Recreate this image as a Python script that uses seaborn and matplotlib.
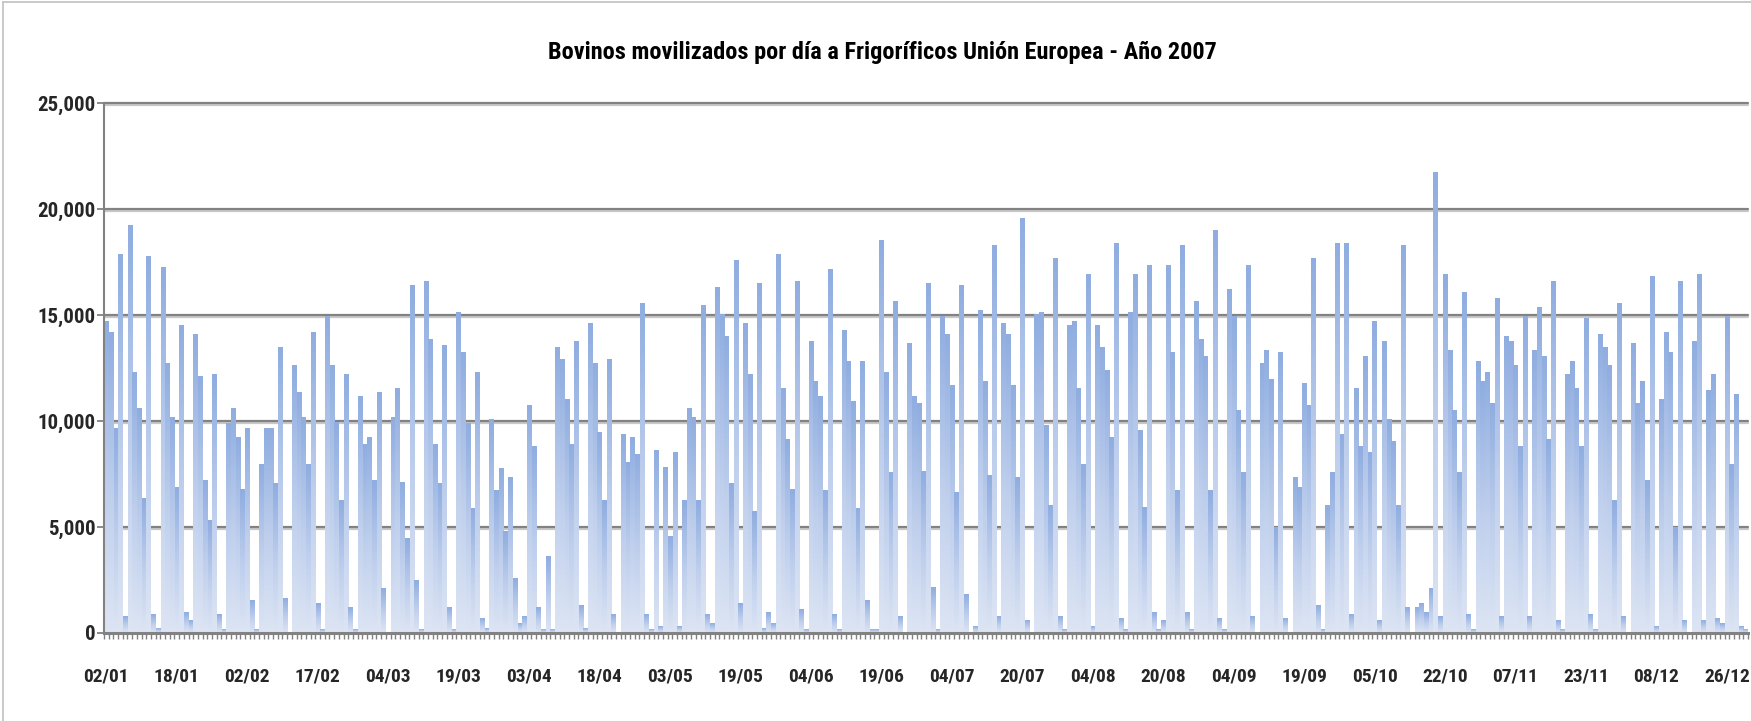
import numpy as np
import pandas as pd
import matplotlib
matplotlib.use("Agg")
import matplotlib.pyplot as plt
import matplotlib.patheffects as pe
from matplotlib import font_manager
from matplotlib.colors import LinearSegmentedColormap
import seaborn as sns

# ---------------------------------------------------------------
# Daily head count, 2007 (one list per month, in date order;
# days listed in `skipped_days` have no record in the series)
# ---------------------------------------------------------------
skipped_days = ["2007-01-07", "2007-05-06", "2007-05-20", "2007-07-15",
                "2007-08-05", "2007-09-30", "2007-10-07", "2007-10-21",
                "2007-11-04", "2007-11-11", "2007-12-09", "2007-12-23",
                "2007-12-25"]

jan = [14670, 14180, 9640, 17840, 780, 19240, 12280, 10580, 6360, 17750,
       870, 235, 17250, 12720, 10150, 6880, 14510, 960, 600, 14080,
       12100, 7210, 5330, 12190, 870, 180, 9870, 10580, 9200]
feb = [6790, 9640, 1540, 145, 7970, 9640, 9640, 7030, 13460, 1630,
       0, 12610, 11340, 10150, 7970, 14180, 1400, 145, 14910, 12610,
       9950, 6270, 12190, 1210, 145, 11140, 8910, 9200]
mar = [7210, 11340, 2080, 0, 10150, 11520, 7120, 4470, 16390, 2480,
       145, 16590, 13840, 8910, 7030, 13570, 1210, 145, 15130, 13220,
       9870, 5850, 12280, 690, 235, 10050, 6700, 7740, 4800, 7320, 2570]
apr = [450, 780, 10720, 8790, 1210, 145, 3620, 145, 13460, 12900,
       11000, 8910, 13750, 1300, 235, 14600, 12720, 9440, 6270, 12900,
       870, 0, 9350, 8060, 9200, 8410, 15540, 870, 145, 8590]
may = [330, 7820, 4560, 8500, 330, 6270, 10580, 10150, 6270, 15450,
       870, 450, 16300, 15020, 13990, 7030, 17590, 1400, 14600, 12190,
       5740, 16500, 235, 960, 450, 17840, 11520, 9110, 6790]
jun = [16590, 1120, 145, 13750, 11870, 11140, 6700, 17160, 870, 145,
       14280, 12810, 10910, 5850, 12810, 1540, 145, 145, 18530, 12280,
       7550, 15650, 780, 0, 13660, 11140, 10820, 7640, 16500, 2140]
jul = [145, 14910, 14080, 11670, 6610, 16390, 1810, 0, 330, 15220,
       11870, 7410, 18300, 780, 14600, 14080, 11670, 7320, 19570, 600,
       0, 15020, 15130, 9780, 6030, 17680, 780, 145, 14510, 14690]
aug = [11520, 7970, 16920, 330, 14510, 13460, 12370, 9200, 18390, 690,
       145, 15130, 16920, 9530, 5920, 17350, 960, 145, 600, 17350,
       13220, 6700, 18300, 960, 145, 15650, 13840, 13040, 6700, 18970]
sep = [690, 145, 16210, 14910, 10490, 7550, 17350, 780, 0, 12720,
       13320, 11960, 5000, 13220, 690, 0, 7320, 6880, 11760, 10720,
       17680, 1300, 145, 6030, 7550, 18390, 9350, 18390, 870]
oct_ = [11520, 8790, 13040, 8500, 14690, 600, 13750, 10050, 9040, 6030,
        18300, 1210, 0, 1210, 1400, 960, 2080, 21700, 780, 16920,
        13320, 10490, 7550, 16070, 870, 145, 12810, 11870, 12280]
nov = [10820, 15780, 780, 13990, 13750, 12610, 8790, 14910, 780, 13320,
       15360, 13040, 9110, 16590, 600, 145, 12190, 12810, 11520, 8790,
       14840, 870, 145, 14080, 13460, 12610, 6270, 15540]
dec = [780, 0, 13660, 10820, 11870, 7210, 16830, 330, 11000, 14180,
       13220, 5000, 16590, 600, 0, 13750, 16920, 600, 11430, 12190,
       690, 450, 14910, 7970, 11250, 330, 145]

title = "Bovinos movilizados por día a Frigoríficos Unión Europea - Año 2007"
y_ticks = [0, 5000, 10000, 15000, 20000, 25000]
label_every = 15

# ---------------------------------------------------------------
dates = pd.date_range("2007-01-02", "2007-12-30", freq="D")
dates = dates[~dates.isin(pd.to_datetime(skipped_days))]
values = jan + feb + mar + apr + may + jun + jul + aug + sep + oct_ + nov + dec
df = pd.DataFrame({"fecha": dates.strftime("%d/%m"), "bovinos": values})
n = len(df)


def pick_font(candidates):
    for name in candidates:
        try:
            font_manager.findfont(font_manager.FontProperties(family=name),
                                  fallback_to_default=False)
            return name
        except Exception:
            continue
    return "DejaVu Sans"


sns.set_theme(style="white")
narrow = pick_font(["Liberation Sans Narrow", "Arial Narrow",
                    "DejaVu Sans Condensed", "Roboto Condensed", "Liberation Sans"])
plt.rcParams["font.family"] = [narrow, "DejaVu Sans"]

W, H = 1751, 721
fig = plt.figure(figsize=(W / 100, H / 100), dpi=100)
fig.patch.set_facecolor("white")
ax = fig.add_axes([104 / W, 1 - 633 / H, (1748 - 104) / W, (633 - 103) / H])

sns.barplot(data=df, x="fecha", y="bovinos", color="#94b1e0",
            saturation=1, width=0.92, ax=ax, zorder=3)

# vertical gradient fill inside every bar
cmap = LinearSegmentedColormap.from_list("bar", ["#dde5f4", "#bccdec", "#8fade0"])
grad = np.linspace(0, 1, 128).reshape(-1, 1)
for p in list(ax.patches):
    x0, w, h = p.get_x(), p.get_width(), p.get_height()
    p.set_visible(False)
    if h <= 0:
        continue
    ax.imshow(grad, extent=(x0, x0 + w, 0, h), origin="lower", cmap=cmap,
              aspect="auto", interpolation="bilinear", zorder=3)

ax.set_xlim(-0.5, n - 0.5)
ax.set_ylim(0, 25000)

# horizontal gridlines with a soft shadow underneath
for yv in y_ticks[1:]:
    ax.axhline(yv, color="#828282", lw=1.6, zorder=1, clip_on=False,
               path_effects=[pe.SimpleLineShadow(offset=(0, -1.5), shadow_color="#c8c8c8", alpha=1),
                             pe.Normal()])

ax.set_yticks(y_ticks)
ax.set_yticklabels([f"{v:,}" for v in y_ticks])
ax.tick_params(axis="y", which="major", length=5, width=1.3, color="#828282",
               pad=1, labelsize=15, direction="out", left=True)
for t in ax.get_yticklabels():
    t.set_fontweight("bold")

major = list(range(0, n, label_every))
ax.set_xticks(major)
ax.set_xticklabels([df["fecha"].iloc[i] for i in major])
ax.set_xticks(np.arange(n + 1) - 0.5, minor=True)
ax.tick_params(axis="x", which="major", length=0, pad=25, labelsize=14)
ax.tick_params(axis="x", which="minor", length=4, width=1, color="#828282",
               direction="out", bottom=True)
for t in ax.get_xticklabels():
    t.set_fontweight("bold")

ax.set_xlabel("")
ax.set_ylabel("")
for side in ["top", "right"]:
    ax.spines[side].set_visible(False)
ax.spines["left"].set_color("#828282")
ax.spines["left"].set_linewidth(1.5)
ax.spines["bottom"].set_color("#828282")
ax.spines["bottom"].set_linewidth(2.2)
ax.spines["left"].set_zorder(5)
ax.spines["bottom"].set_zorder(5)

fig.text(0.504, 1 - 53 / H, title, ha="center", va="center",
         fontsize=17.5, fontweight="bold", color="black")

# chart-area frame
fig.add_artist(plt.Line2D([2.5 / W, 2.5 / W], [0, 1 - 2 / H], color="#c0c0c0", lw=1.2))
fig.add_artist(plt.Line2D([2.5 / W, 1], [1 - 2 / H, 1 - 2 / H], color="#c0c0c0", lw=1.2))

fig.savefig("out.png", dpi=100, facecolor="white")
